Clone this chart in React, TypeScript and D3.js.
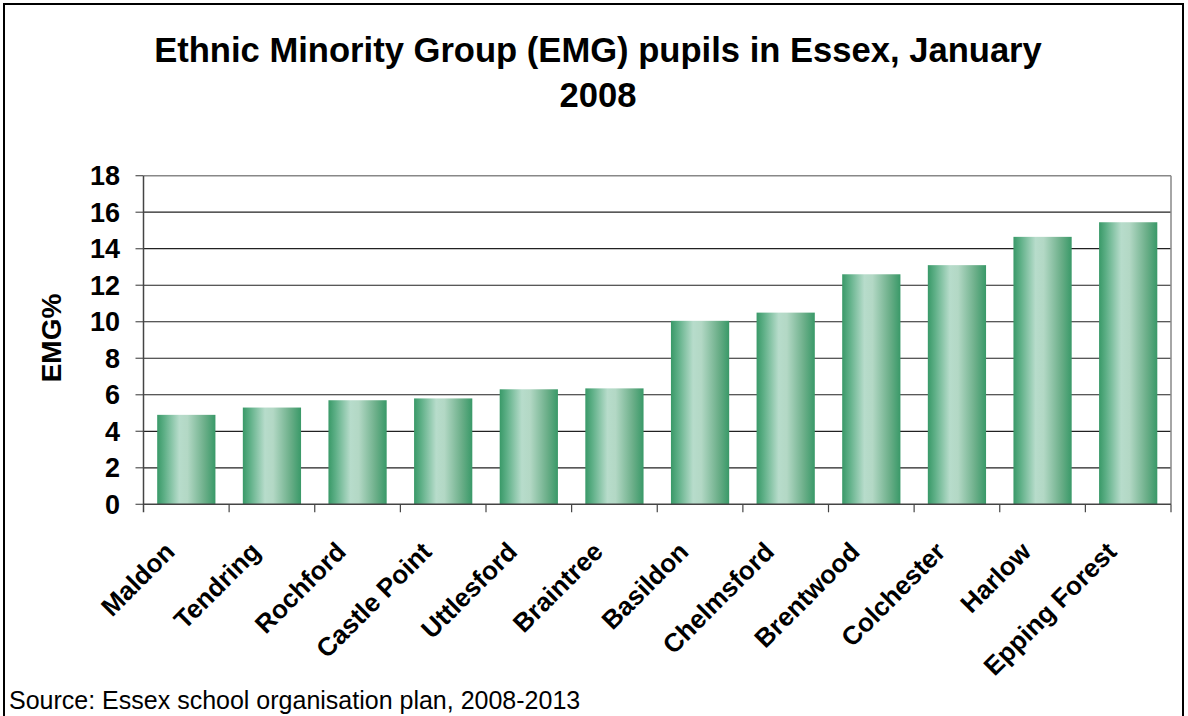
import React from "react";
import * as d3 from "d3";

const categories = ["Maldon", "Tendring", "Rochford", "Castle Point", "Uttlesford", "Braintree", "Basildon", "Chelmsford", "Brentwood", "Colchester", "Harlow", "Epping Forest"];
const values = [4.9, 5.3, 5.7, 5.8, 6.3, 6.35, 10.05, 10.5, 12.6, 13.1, 14.65, 15.45];
const yTicks = [0, 2, 4, 6, 8, 10, 12, 14, 16, 18];
const titleLines = ["Ethnic Minority Group (EMG) pupils in Essex, January", "2008"];
const yLabel = "EMG%";
const source = "Source: Essex school organisation plan, 2008-2013";

const W = 1188, H = 716;
const left = 143.5, right = 1171, top = 175.7, bottom = 504.3;

export default function App() {
  const x = d3.scaleBand<string>().domain(categories).range([left, right]).paddingInner(0.32).paddingOuter(0.16);
  const xTick = d3.scaleBand<string>().domain(categories).range([left, right]);
  const y = d3.scaleLinear().domain([0, 18]).range([bottom, top]);
  const font = "Arial, 'Liberation Sans', sans-serif";
  return (
    <svg width={W} height={H} style={{ position: "absolute", left: 0, top: 0 }}>
      <defs>
        <linearGradient id="barg" x1="0" x2="1" y1="0" y2="0">
          <stop offset="0" stopColor="#399968" />
          <stop offset="0.12" stopColor="#5daf86" />
          <stop offset="0.38" stopColor="#b7dccb" />
          <stop offset="0.52" stopColor="#b3d8c5" />
          <stop offset="0.82" stopColor="#6aae88" />
          <stop offset="1" stopColor="#399968" />
        </linearGradient>
      </defs>
      <rect x={0} y={0} width={W} height={H} fill="#fff" />
      <rect x={4} y={4} width={1179} height={720} fill="none" stroke="#000" strokeWidth={2} />
      {titleLines.map((t, i) => (
        <text key={i} x={598} y={62 + i * 45} textAnchor="middle" fontFamily={font} fontWeight="bold" fontSize={34.6} fill="#000">{t}</text>
      ))}
      {yTicks.map((t) => (
        <g key={t}>
          {t > 0 && t < 18 && <line x1={left} x2={right} y1={y(t)} y2={y(t)} stroke="#222" strokeWidth={1.2} />}
          <line x1={left - 8} x2={left} y1={y(t)} y2={y(t)} stroke="#555" strokeWidth={1.2} />
          <text x={120} y={y(t) + 9.5} textAnchor="end" fontFamily={font} fontWeight="bold" fontSize={27} fill="#000">{t}</text>
        </g>
      ))}
      <line x1={left} x2={right} y1={top} y2={top} stroke="#888" strokeWidth={1.5} />
      <line x1={right} x2={right} y1={top} y2={bottom} stroke="#888" strokeWidth={1.5} />
      {categories.map((c, i) => (
        <rect key={c} x={x(c)} y={y(values[i])} width={x.bandwidth()} height={bottom - y(values[i])} fill="url(#barg)" />
      ))}
      <line x1={left} x2={left} y1={top} y2={bottom + 8} stroke="#444" strokeWidth={1.5} />
      <line x1={left} x2={right} y1={bottom} y2={bottom} stroke="#444" strokeWidth={1.5} />
      {categories.map((c) => (
        <line key={"t" + c} x1={(xTick(c) as number) + xTick.bandwidth()} x2={(xTick(c) as number) + xTick.bandwidth()} y1={bottom} y2={bottom + 8} stroke="#444" strokeWidth={1.2} />
      ))}
      {categories.map((c) => {
        const cx = (x(c) as number) + x.bandwidth() / 2 - 10;
        const cy = bottom + 49;
        return (
          <text key={"l" + c} transform={`translate(${cx},${cy}) rotate(-45)`} textAnchor="end" fontFamily={font} fontWeight="bold" fontSize={26} fill="#000">{c}</text>
        );
      })}
      <text transform={`translate(61,338) rotate(-90)`} textAnchor="middle" fontFamily={font} fontWeight="bold" fontSize={28} fill="#000">{yLabel}</text>
      <text x={9} y={709} fontFamily={font} fontSize={25} fill="#000">{source}</text>
    </svg>
  );
}
